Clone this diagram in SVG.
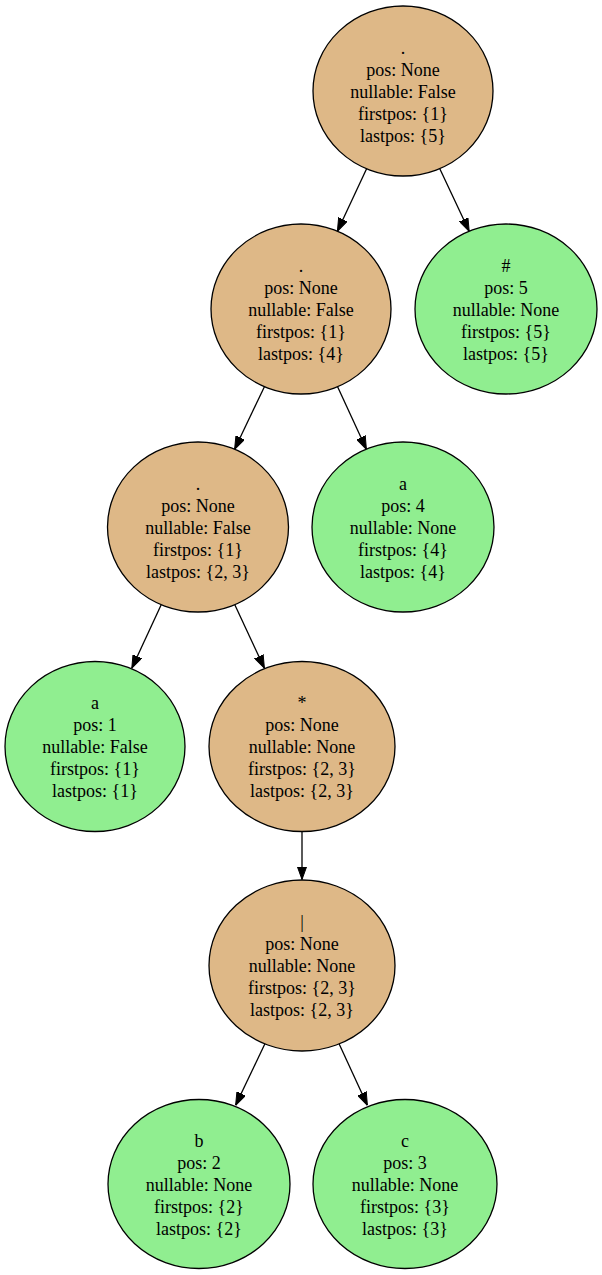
<svg xmlns="http://www.w3.org/2000/svg" width="602" height="1275" viewBox="0 0 602 1275">
<style>
  .inner { fill: #deb887; stroke: #000; stroke-width: 1.3; }
  .leaf { fill: #90ee90; stroke: #000; stroke-width: 1.3; }
  text { font-family: "Liberation Serif", "Times New Roman", serif; font-size: 18px; fill: #000; text-anchor: middle; }
  .edge { stroke: #000; stroke-width: 1.3; fill: none; marker-end: url(#arrow); }
</style>
<defs>
  <marker id="arrow" viewBox="0 0 13 10" refX="13" refY="5" markerWidth="13" markerHeight="10" markerUnits="userSpaceOnUse" orient="auto">
    <path d="M0,0.3 L13,5 L0,9.7 z" fill="#000" stroke="#000" stroke-width="1"/>
  </marker>
</defs>
<rect width="602" height="1275" fill="#fff"/>
<g id="edges">
  <line class="edge" x1="366.6" y1="168.7" x2="337.4" y2="231.3"/>
  <line class="edge" x1="439.8" y1="168.7" x2="469.2" y2="231.3"/>
  <line class="edge" x1="264.4" y1="386.7" x2="234.6" y2="449.3"/>
  <line class="edge" x1="337.6" y1="386.7" x2="366.4" y2="449.3"/>
  <line class="edge" x1="161.2" y1="604.8" x2="131.8" y2="668.2"/>
  <line class="edge" x1="234.8" y1="604.8" x2="264.4" y2="668.2"/>
  <line class="edge" x1="302" y1="831.5" x2="302" y2="879.5"/>
  <line class="edge" x1="265.4" y1="1042.7" x2="235.6" y2="1105.3"/>
  <line class="edge" x1="338.6" y1="1042.7" x2="367.4" y2="1105.3"/>
</g>
<g id="root">
  <ellipse class="inner" cx="403" cy="91" rx="90" ry="85"/>
  <text x="403" y="54">.</text>
  <text x="403" y="76">pos: None</text>
  <text x="403" y="98">nullable: False</text>
  <text x="403" y="120">firstpos: {1}</text>
  <text x="403" y="142">lastpos: {5}</text>
</g>
<g id="concat2">
  <ellipse class="inner" cx="301" cy="309" rx="90" ry="85"/>
  <text x="301" y="272">.</text>
  <text x="301" y="294">pos: None</text>
  <text x="301" y="316">nullable: False</text>
  <text x="301" y="338">firstpos: {1}</text>
  <text x="301" y="360">lastpos: {4}</text>
</g>
<g id="hash">
  <ellipse class="leaf" cx="506" cy="309" rx="91" ry="85"/>
  <text x="506" y="272">#</text>
  <text x="506" y="294">pos: 5</text>
  <text x="506" y="316">nullable: None</text>
  <text x="506" y="338">firstpos: {5}</text>
  <text x="506" y="360">lastpos: {5}</text>
</g>
<g id="concat3">
  <ellipse class="inner" cx="198" cy="527" rx="90.5" ry="85"/>
  <text x="198" y="490">.</text>
  <text x="198" y="512">pos: None</text>
  <text x="198" y="534">nullable: False</text>
  <text x="198" y="556">firstpos: {1}</text>
  <text x="198" y="578">lastpos: {2, 3}</text>
</g>
<g id="a4">
  <ellipse class="leaf" cx="403" cy="527" rx="91" ry="85"/>
  <text x="403" y="490">a</text>
  <text x="403" y="512">pos: 4</text>
  <text x="403" y="534">nullable: None</text>
  <text x="403" y="556">firstpos: {4}</text>
  <text x="403" y="578">lastpos: {4}</text>
</g>
<g id="a1">
  <ellipse class="leaf" cx="95" cy="746.5" rx="90" ry="85"/>
  <text x="95" y="709">a</text>
  <text x="95" y="731">pos: 1</text>
  <text x="95" y="753">nullable: False</text>
  <text x="95" y="775">firstpos: {1}</text>
  <text x="95" y="797">lastpos: {1}</text>
</g>
<g id="star">
  <ellipse class="inner" cx="302" cy="746.5" rx="93" ry="85"/>
  <text x="302" y="709">*</text>
  <text x="302" y="731">pos: None</text>
  <text x="302" y="753">nullable: None</text>
  <text x="302" y="775">firstpos: {2, 3}</text>
  <text x="302" y="797">lastpos: {2, 3}</text>
</g>
<g id="union">
  <ellipse class="inner" cx="302" cy="965.5" rx="93" ry="85.5"/>
  <text x="302" y="928">|</text>
  <text x="302" y="950">pos: None</text>
  <text x="302" y="972">nullable: None</text>
  <text x="302" y="994">firstpos: {2, 3}</text>
  <text x="302" y="1016">lastpos: {2, 3}</text>
</g>
<g id="b">
  <ellipse class="leaf" cx="199" cy="1184" rx="91" ry="84.5"/>
  <text x="199" y="1147">b</text>
  <text x="199" y="1169">pos: 2</text>
  <text x="199" y="1191">nullable: None</text>
  <text x="199" y="1213">firstpos: {2}</text>
  <text x="199" y="1235">lastpos: {2}</text>
</g>
<g id="c">
  <ellipse class="leaf" cx="405" cy="1184" rx="92" ry="84.5"/>
  <text x="405" y="1147">c</text>
  <text x="405" y="1169">pos: 3</text>
  <text x="405" y="1191">nullable: None</text>
  <text x="405" y="1213">firstpos: {3}</text>
  <text x="405" y="1235">lastpos: {3}</text>
</g>
</svg>
